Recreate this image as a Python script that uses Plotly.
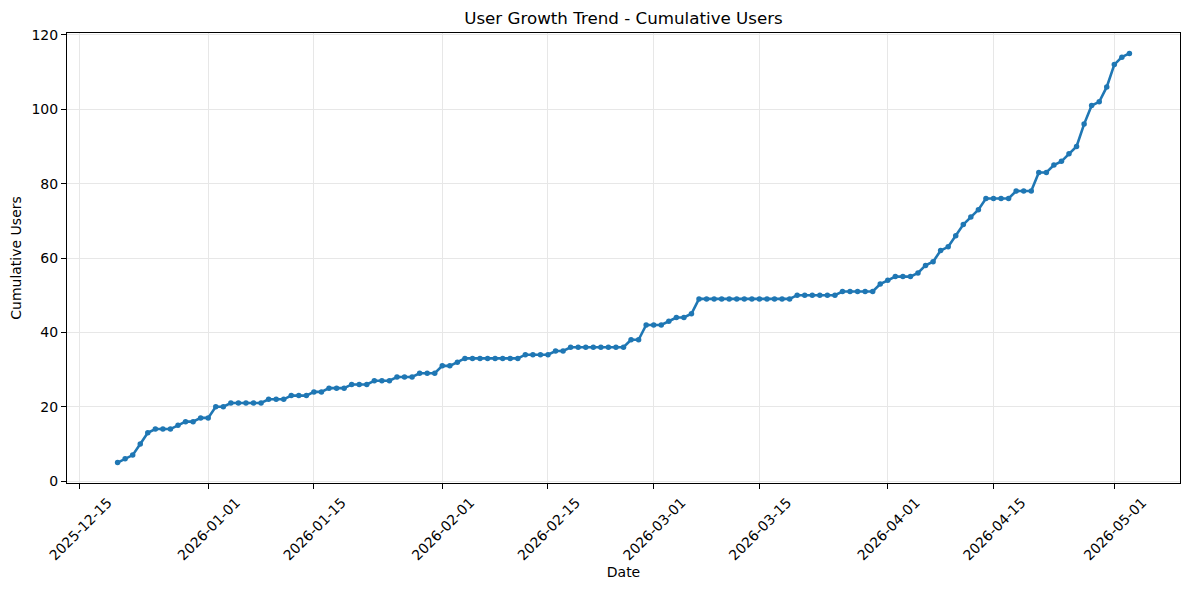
import pandas as pd
import plotly.graph_objects as go

# daily cumulative users (one value per day)
start_date = '2025-12-20'
cumulative_users = [
    5, 6, 7, 10, 13, 14, 14, 14, 15, 16, 16, 17, 17, 20, 20, 21, 21, 21, 21, 21,
    22, 22, 22, 23, 23, 23, 24, 24, 25, 25, 25, 26, 26, 26, 27, 27, 27, 28, 28, 28,
    29, 29, 29, 31, 31, 32, 33, 33, 33, 33, 33, 33, 33, 33, 34, 34, 34, 34, 35, 35,
    36, 36, 36, 36, 36, 36, 36, 36, 38, 38, 42, 42, 42, 43, 44, 44, 45, 49, 49, 49,
    49, 49, 49, 49, 49, 49, 49, 49, 49, 49, 50, 50, 50, 50, 50, 50, 51, 51, 51, 51,
    51, 53, 54, 55, 55, 55, 56, 58, 59, 62, 63, 66, 69, 71, 73, 76, 76, 76, 76, 78,
    78, 78, 83, 83, 85, 86, 88, 90, 96, 101, 102, 106, 112, 114, 115,
]
dates = pd.date_range(start_date, periods=len(cumulative_users), freq='D')

x_ticks = ['2025-12-15', '2026-01-01', '2026-01-15', '2026-02-01', '2026-02-15',
           '2026-03-01', '2026-03-15', '2026-04-01', '2026-04-15', '2026-05-01']
y_ticks = [0, 20, 40, 60, 80, 100, 120]

# matplotlib-like 5% padding
pad = (dates[-1] - dates[0]) * 0.05
x_range = [dates[0] - pad, dates[-1] + pad]
ypad = (max(cumulative_users) - min(cumulative_users)) * 0.05
y_range = [min(cumulative_users) - ypad, max(cumulative_users) + ypad]

fig = go.Figure()
fig.add_trace(go.Scatter(x=dates, y=cumulative_users, mode='lines+markers',
                         line=dict(color='#1f77b4', width=2.6),
                         marker=dict(color='#1f77b4', size=5.5)))

axis_style = dict(showline=True, linecolor='black', linewidth=1, mirror=True,
                  ticks='outside', ticklen=5, tickwidth=1, tickcolor='black',
                  showgrid=True, gridcolor='#e7e7e7', gridwidth=1, zeroline=False,
                  automargin=False, tickfont=dict(size=14, color='black'))

# page body has an 8px margin, so the figure is 16px smaller than the window
W, H = 1173, 574
fig.update_layout(
    width=W, height=H,
    template='simple_white',
    font=dict(family='DejaVu Sans', color='black'),
    title=dict(text='User Growth Trend - Cumulative Users', x=0.5, xanchor='center',
               xref='paper', y=1 - 10 / H, yref='container', yanchor='middle',
               font=dict(size=16.7)),
    margin=dict(l=59, r=1, t=25, b=99),
    showlegend=False,
    plot_bgcolor='white', paper_bgcolor='white',
)
# matplotlib centres rotated labels on the tick, so shift them along the axis
fig.update_xaxes(range=x_range, tickvals=pd.to_datetime(x_ticks), ticktext=x_ticks,
                 tickangle=-45, ticklabelshift=28,
                 title=dict(text='Date', font=dict(size=14), standoff=4),
                 **axis_style)
fig.update_yaxes(range=y_range, tickvals=y_ticks,
                 title=dict(text='Cumulative Users', font=dict(size=14), standoff=8),
                 **axis_style)

fig.write_html('out.html')
